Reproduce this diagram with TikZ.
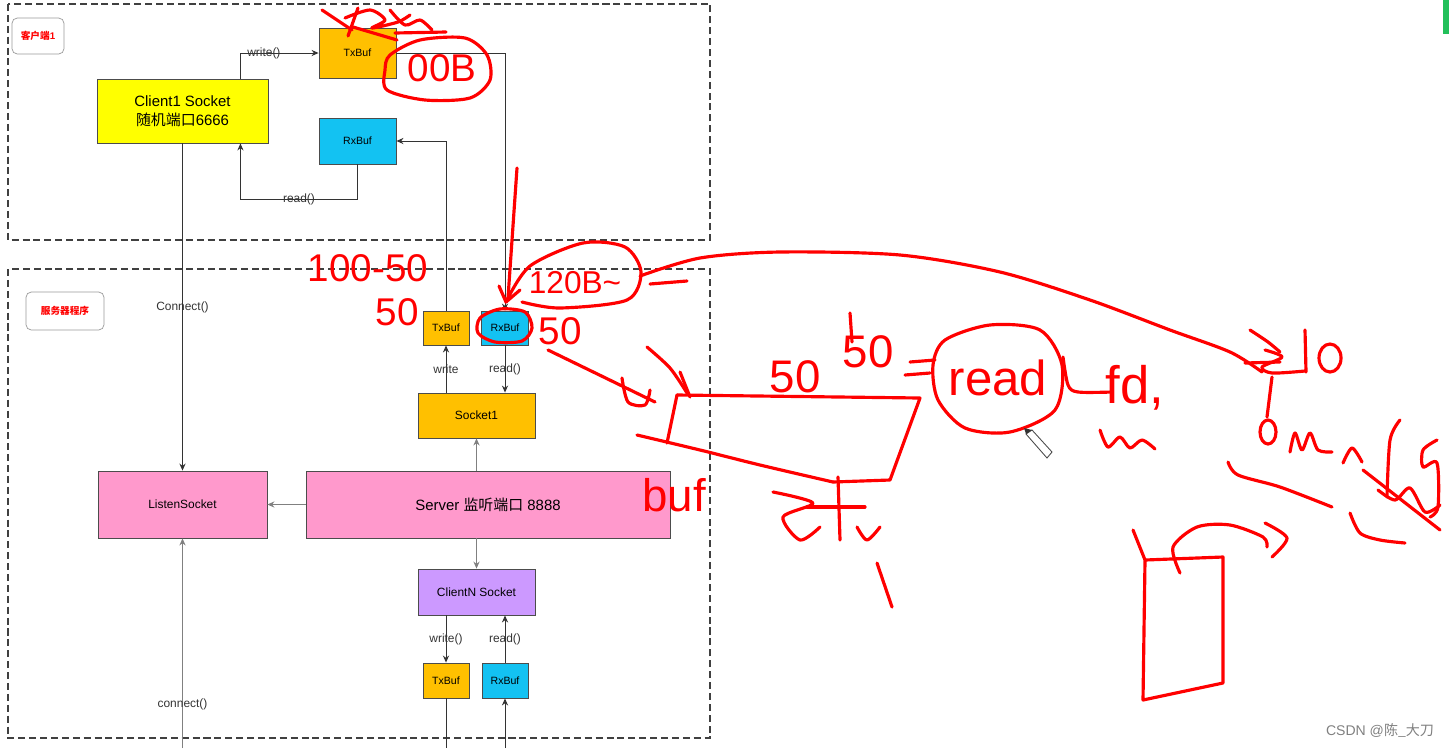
\documentclass[tikz,border=0pt]{standalone}
\usepackage{fontspec}
\setmainfont{Liberation Sans}
\newfontfamily\cjk{Noto Sans CJK SC}
\usetikzlibrary{arrows.meta}
\definecolor{txorange}{HTML}{FFC000}
\definecolor{rxcyan}{HTML}{13C2F2}
\definecolor{sockyellow}{HTML}{FFFF00}
\definecolor{listenpink}{HTML}{FF99CC}
\definecolor{clientpurple}{HTML}{CC99FF}
\definecolor{penred}{HTML}{FF0000}
\definecolor{framegray}{HTML}{404040}
\definecolor{tabgreen}{HTML}{22C05A}
\tikzset{
  frame/.style={draw=framegray, line width=1.1pt, dash pattern=on 4pt off 2.2pt},
  tag/.style={draw=gray!80, rounded corners=3pt, text=red, font=\fontsize{5.5}{6}\selectfont\bfseries, minimum width=1.04cm, minimum height=0.72cm},
  block/.style={draw=gray!60!black, line width=0.5pt, inner sep=1pt, align=center, font=\fontsize{6.8}{8}\selectfont},
  bigtext/.style={font=\fontsize{8.5}{10.5}\selectfont},
  buftext/.style={font=\fontsize{6}{7}\selectfont},
  lbl/.style={font=\fontsize{6.8}{8}\selectfont, text=black!80, inner sep=1pt},
  link/.style={draw=black!80, line width=0.5pt, -{Stealth[length=4pt,width=3.5pt]}},
  pale/.style={link, draw=gray},
  pen/.style={draw=penred, line width=1.8pt, line cap=round, line join=round},
  hand/.style={text=penred, inner sep=0pt, font=\fontsize{#1}{#1}\selectfont},
  hand/.default=22,
}
\begin{document}
\begin{tikzpicture}[x=0.02cm, y=-0.02cm]
  \useasboundingbox (0,0) rectangle (1449,748);
  \fill[tabgreen] (1443,0) rectangle (1449,34);

  % two program frames
  \draw[frame] (8,4) rectangle (710,240);
  \draw[frame] (8,269) rectangle (710,738);
  \node[tag] (ctag) at (38,36) {{\cjk 客户端}1};
  \node[tag, minimum width=1.56cm, minimum height=0.76cm] (stag) at (65,311) {\cjk 服务器程序};

  % client side
  \node[block, bigtext, fill=sockyellow, minimum width=3.42cm, minimum height=1.28cm] (csock) at (182.5,111) {Client1 Socket\\{\cjk 随机端口}6666};
  \node[block, buftext, fill=txorange, minimum width=1.54cm, minimum height=1cm] (ctx) at (357.5,53) {TxBuf};
  \node[block, buftext, fill=rxcyan, minimum width=1.54cm, minimum height=0.92cm] (crx) at (357.5,141) {RxBuf};

  % server side
  \node[block, buftext, fill=txorange, minimum width=0.92cm, minimum height=0.68cm] (stx) at (446,328) {TxBuf};
  \node[block, buftext, fill=rxcyan, minimum width=0.94cm, minimum height=0.68cm] (srx) at (505,328) {RxBuf};
  \node[block, fill=txorange, minimum width=2.34cm, minimum height=0.9cm] (sock1) at (476.5,415.5) {Socket1};
  \node[block, fill=listenpink, minimum width=3.38cm, minimum height=1.34cm] (lsock) at (182.5,504.5) {ListenSocket};
  \node[block, bigtext, fill=listenpink, minimum width=7.28cm, minimum height=1.34cm] (srv) at (488,504.5) {Server {\cjk 监听端口} 8888};
  \node[block, fill=clientpurple, minimum width=2.34cm, minimum height=0.92cm] (cnsock) at (476.5,592) {ClientN Socket};
  \node[block, buftext, fill=txorange, minimum width=0.92cm, minimum height=0.7cm] (ntx) at (446,680.5) {TxBuf};
  \node[block, buftext, fill=rxcyan, minimum width=0.92cm, minimum height=0.7cm] (nrx) at (505,680.5) {RxBuf};
  \coordinate (txout) at (446,748);
  \coordinate (rxin) at (505,748);
  \coordinate (lsin) at (182.5,748);

  \draw[link] ([xshift=-0.56cm]csock.north east) |- node[lbl, pos=0.65]{write()} (ctx.west);
  \draw[link] (crx.south) -- ++(0,35) -| node[lbl, pos=0.25]{read()} ([xshift=-0.56cm]csock.south east);
  \draw[link] (ctx.east) -| (srx.north);
  \draw[link] (stx.north) |- (crx.east);
  \draw[link] (csock.south) -- node[lbl]{Connect()} (lsock.north);
  \draw[link] (sock1.north -| stx) -- node[lbl]{write} (stx.south);
  \draw[link] (srx.south) -- node[lbl]{read()} (sock1.north -| srx);
  \draw[pale] (srv.north -| sock1) -- (sock1.south);
  \draw[pale] (srv.west) -- (lsock.east);
  \draw[pale] (srv.south -| cnsock) -- (cnsock.north);
  \draw[link] (cnsock.south -| ntx) -- node[lbl]{write()} (ntx.north);
  \draw[link] (nrx.north) -- node[lbl]{read()} (cnsock.south -| nrx);
  \draw[draw=black!80, line width=0.5pt] (ntx.south) -- (txout);
  \draw[link] (rxin) -- (nrx.south);
  \draw[pale] (lsin) -- node[lbl, pos=0.21]{connect()} (lsock.south);

  % red pen notes
  \draw[pen] plot[smooth] coordinates {(322,10) (340,22) (352,30)};
  \draw[pen] (358,8) -- (348,36);
  \draw[pen] plot[smooth] coordinates {(345,18) (370,10) (385,20) (372,28) (398,22) (410,15)};
  \draw[pen] plot[smooth] coordinates {(390,10) (405,25) (420,20) (432,30)};
  \draw[pen] (353,27) -- (397,40);
  \draw[pen] (395,33) -- (446,32);
  \draw[pen] plot[smooth cycle] coordinates {(390,55) (420,40) (465,38) (487,55) (490,80) (470,98) (425,100) (387,90) (385,70)};
  \node[hand] (n00b) at (442,68) {00B};

  \draw[pen] (517,168) -- (508,298);
  \draw[pen] (499,286) -- (506,302) -- (520,290);
  \draw[pen] plot[smooth] coordinates {(506,302) (530,266) (583,243) (625,247) (641,272) (627,300) (560,308) (522,302)};
  \node[hand=18] (n120) at (575,283) {120B\textasciitilde};
  \draw[pen] (650,284) -- (687,281);
  \draw[pen] plot[smooth] coordinates {(640,276) (700,258) (780,252) (900,255) (1000,272) (1090,300) (1170,330) (1230,352) (1262,372)};
  \draw[pen] plot[smooth] coordinates {(1250,330) (1268,342) (1280,352)};
  \draw[pen] plot[smooth cycle] coordinates {(480,318) (500,309) (525,312) (532,328) (522,341) (495,342) (478,333)};
  \node[hand] (n50r) at (560,331) {50};
  \node[hand] (n100) at (368,268) {100-50};
  \node[hand] (n50l) at (397,312) {50};

  \draw[pen] (548,350) -- (655,402);
  \draw[pen] plot[smooth] coordinates {(622,378) (628,402) (645,405) (650,390)};
  \draw[pen] plot[smooth] coordinates {(647,347) (670,368) (687,393)};
  \draw[pen] (680,372) -- (690,397);
  \draw[pen] plot coordinates {(677,395) (920,398) (890,480) (833,482)};
  \draw[pen] (677,395) -- (667,443);
  \draw[pen] plot[smooth] coordinates {(637,435) (700,450) (760,465) (833,482)};
  \node[hand=26] (nbuf) at (674,495) {buf};
  \node[hand=26] (n50a) at (795,377) {50};
  \node[hand=26] (n50b) at (868,352) {50};
  \draw[pen] (850,313) -- (852,342);
  \draw[pen] (910,362) -- (935,360);
  \draw[pen] (905,375) -- (930,373);
  \draw[pen] plot[smooth cycle] coordinates {(945,340) (990,325) (1040,330) (1062,365) (1055,410) (1010,432) (965,428) (938,400) (933,365)};
  \node[hand=28] (nread) at (998,378) {read};
  \draw[pen] plot[smooth] coordinates {(1063,357) (1068,385) (1078,392) (1112,392)};
  \node[hand=30] (nfd) at (1135,388) {fd,};
  \draw[pen] plot[smooth] coordinates {(1100,430) (1108,447) (1120,437) (1130,448) (1142,440) (1155,449)};
  \draw[black!70, fill=white, line width=0.5pt] (1026,434) -- (1032,430) -- (1052,452) -- (1047,458) -- cycle;
  \fill[black!80] (1026,434) -- (1032,430) -- (1024,428) -- cycle;

  \draw[pen] plot[smooth] coordinates {(773,492) (813,503) (783,517) (800,540) (820,527)};
  \draw[pen] (838,477) -- (840,540);
  \draw[pen] (807,507) -- (865,507);
  \draw[pen] plot[smooth] coordinates {(857,527) (867,540) (880,527)};
  \draw[pen] (877,563) -- (892,607);

  \draw[pen] (1245,363) -- (1280,362);
  \draw[pen] plot[smooth] coordinates {(1265,350) (1282,357) (1262,367) (1272,373) (1305,371)};
  \draw[pen] (1305,330) -- (1306,372);
  \draw[pen] (1330,358) ellipse[x radius=11, y radius=14];
  \draw[pen] (1272,377) -- (1267,417);
  \draw[pen] (1268,432) ellipse[x radius=8, y radius=12];
  \draw[pen] plot[smooth] coordinates {(1290,452) (1295,433) (1302,450) (1310,433) (1318,450) (1332,452)};
  \draw[pen] plot[smooth] coordinates {(1343,463) (1352,448) (1362,462)};
  \draw[pen] plot[smooth] coordinates {(1400,420) (1390,440) (1387,497)};
  \draw[pen] plot[smooth] coordinates {(1437,440) (1423,450) (1423,467) (1437,463) (1438,507) (1430,517)};
  \draw[pen] (1363,470) -- (1440,530);
  \draw[pen] plot[smooth] coordinates {(1378,490) (1395,500) (1410,488) (1425,512) (1440,505)};
  \draw[pen] plot[smooth] coordinates {(1228,462) (1238,475) (1280,487) (1332,507)};
  \draw[pen] plot[smooth] coordinates {(1350,513) (1360,533) (1380,540) (1405,543)};

  \draw[pen] plot coordinates {(1133,530) (1145,560) (1223,557) (1223,683) (1143,700) (1145,560)};
  \draw[pen] plot[smooth] coordinates {(1180,573) (1173,547) (1197,527) (1230,525) (1263,537) (1267,547)};
  \draw[pen] plot[smooth] coordinates {(1265,523) (1287,538) (1272,557)};

  \node[text=gray, font=\fontsize{8}{9}\selectfont] (mark) at (1380,731) {CSDN @{\cjk 陈\_大刀}};
\end{tikzpicture}
\end{document}
